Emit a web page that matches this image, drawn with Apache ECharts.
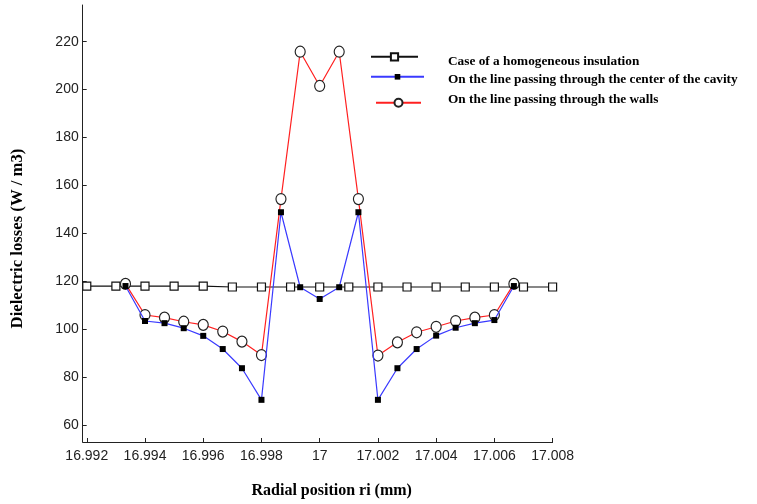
<!DOCTYPE html>
<html>
<head>
<meta charset="utf-8">
<script src="https://cdn.jsdelivr.net/npm/echarts@6/dist/echarts.min.js"></script>
<style>html,body{margin:0;padding:0;background:#fff;}#c{width:757px;height:504px;}</style>
</head>
<body>
<div id="c"></div>
<script>
// Homogeneous insulation (every 0.001 mm)
const xHomog = [16.992,16.993,16.994,16.995,16.996,16.997,16.998,16.999,17.000,17.001,17.002,17.003,17.004,17.005,17.006,17.007,17.008];
const yHomog = [118,118,118,118,118,117.6,117.6,117.6,117.6,117.6,117.6,117.6,117.6,117.6,117.6,117.6,117.6];
// Cavity series positions
const xCavity = [16.99333,16.994,16.99467,16.99533,16.996,16.99667,16.99733,16.998,16.99867,16.99933,17.0,17.00067,17.00133,17.002,17.00267,17.00333,17.004,17.00467,17.00533,17.006,17.00667];
const yCenter = [118,103.4,102.5,100.4,97.2,91.7,83.7,70.5,148.8,117.5,112.6,117.5,148.8,70.5,83.7,91.7,97.3,100.6,102.5,103.8,118];
const yWalls  = [118.9,105.9,104.8,103.1,101.8,99,94.8,89.2,154.3,215.8,201.5,215.8,154.3,89,94.5,98.7,101,103.4,104.8,105.9,118.9];
const xTicks = [16.992,16.994,16.996,16.998,17.000,17.002,17.004,17.006,17.008];
const yTicks = [60,80,100,120,140,160,180,200,220];
const names = ['Case of a homogeneous insulation','On the line passing through the center of the cavity','On the line passing through the walls'];

const zip = (xs, ys) => xs.map((x, i) => [x, ys[i]]);
const legendTextY = [62, 79.5, 100];

const chart = echarts.init(document.getElementById('c'), null, {renderer:'canvas'});
chart.setOption({
  animation:false,
  backgroundColor:'#fff',
  grid:{left:82.7, right:757-552.6, top:5, bottom:62, containLabel:false},
  xAxis:{
    type:'value', min:16.99186, max:17.008,
    axisLine:{show:true, lineStyle:{color:'#222', width:1}},
    axisTick:{show:true, inside:true, length:4, customValues:xTicks, lineStyle:{color:'#222'}},
    axisLabel:{customValues:xTicks, margin:7, fontFamily:'Liberation Sans', fontSize:14, color:'#222',
      formatter:v => String(parseFloat(Number(v).toFixed(3)))},
    splitLine:{show:false}
  },
  yAxis:{
    type:'value', min:52.9, max:235.3,
    axisLine:{show:true, lineStyle:{color:'#222', width:1}},
    axisTick:{show:true, inside:true, length:4, customValues:yTicks, lineStyle:{color:'#222'}},
    axisLabel:{customValues:yTicks, margin:4, fontFamily:'Liberation Sans', fontSize:14, color:'#222'},
    splitLine:{show:false}
  },
  legend:[
    {data:[names[0]], left:370, top:52.2, padding:0, itemWidth:47, itemHeight:9, formatter:() => '', selectedMode:false},
    {data:[names[1]], left:370, top:73.3, padding:0, itemWidth:53, itemHeight:7, formatter:() => '', selectedMode:false},
    {data:[names[2]], left:375, top:97.7, padding:0, itemWidth:45, itemHeight:10, formatter:() => '', selectedMode:false}
  ],
  graphic:names.map((n, i) => ({
    type:'text', x:448, y:legendTextY[i],
    style:{text:n, fontFamily:'Liberation Serif', fontWeight:'bold', fontSize:13.3, fill:'#000', align:'left', verticalAlign:'middle'}
  })).concat([
    {type:'text', x:331.7, y:491,
     style:{text:'Radial position ri (mm)', fontFamily:'Liberation Serif', fontWeight:'bold', fontSize:16, fill:'#000', align:'center', verticalAlign:'middle'}},
    {type:'text', rotation:Math.PI/2, x:18, y:238.5,
     style:{text:'Dielectric losses (W / m3)', fontFamily:'Liberation Serif', fontWeight:'bold', fontSize:16.7, fill:'#000', align:'center', verticalAlign:'middle'}}
  ]),
  series:[
    {name:names[0], type:'line', data:zip(xHomog, yHomog), symbol:'rect', symbolSize:8,
     lineStyle:{color:'#111', width:1.2}, itemStyle:{color:'#fff', borderColor:'#111', borderWidth:1.2}, z:2},
    {name:names[2], type:'line', data:zip(xCavity, yWalls), symbol:'circle', symbolSize:[10,11],
     lineStyle:{color:'#ff2020', width:1.2}, itemStyle:{color:'#fff', borderColor:'#222', borderWidth:1.2}, z:3},
    {name:names[1], type:'line', data:zip(xCavity, yCenter), symbol:'rect', symbolSize:6,
     lineStyle:{color:'#3a3aff', width:1.2}, itemStyle:{color:'#000', borderColor:'#000', borderWidth:0}, z:4}
  ]
});
</script>
</body>
</html>
